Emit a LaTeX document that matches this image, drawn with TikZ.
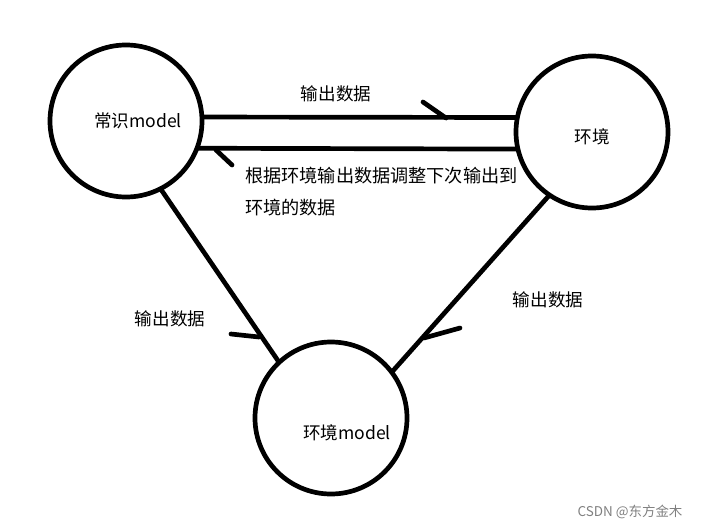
\documentclass[tikz,border=0pt]{standalone}
\usepackage{fontspec}
\newfontfamily\cjk{Noto Sans CJK SC}
\begin{document}
\begin{tikzpicture}[x=0.03cm,y=-0.03cm,
  st/.style={circle,draw,line width=4pt,minimum size=4.56cm,inner sep=0pt,outer sep=0pt},
  ln/.style={line width=4pt},
  bb/.style={line width=4pt,line cap=round},
  lb/.style={font=\cjk\fontsize{15pt}{18pt}\selectfont,inner sep=0pt}]
\useasboundingbox (0,0) rectangle (715,530);
\node[st] (L) at (126,121) {};
\node[st] (R) at (592,132) {};
\node[st] (B) at (331,418) {};
\node[lb] at (138,121) {常识model};
\node[lb] at (592,137) {环境};
\node[lb] at (347,433) {环境model};
\draw[ln] (L.3) -- (R.169);
\draw[ln] (L.-21) -- (R.193);
\draw[ln] (L.-63) -- (B.133);
\draw[ln] (R.236) -- (B.37);
\coordinate (a1) at (423,102); \coordinate (a2) at (446,118);
\coordinate (b1) at (232,165); \coordinate (b2) at (216,150);
\coordinate (c1) at (231,334); \coordinate (c2) at (259,337);
\coordinate (d1) at (460,328); \coordinate (d2) at (424,338);
\draw[bb] (a1) -- (a2);
\draw[bb] (b1) -- (b2);
\draw[bb] (c1) -- (c2);
\draw[bb] (d1) -- (d2);
\node[lb] at (336,94) {输出数据};
\node[lb,anchor=west,font=\cjk\fontsize{15.5pt}{18pt}\selectfont] at (245,176) {根据环境输出数据调整下次输出到};
\node[lb,anchor=west,font=\cjk\fontsize{15.5pt}{18pt}\selectfont] at (245,208) {环境的数据};
\node[lb] at (170,319) {输出数据};
\node[lb] at (548,300) {输出数据};
\node[lb,text=gray,font=\cjk\fontsize{11.5pt}{14pt}\selectfont] at (630,512) {CSDN @东方金木};
\end{tikzpicture}
\end{document}
